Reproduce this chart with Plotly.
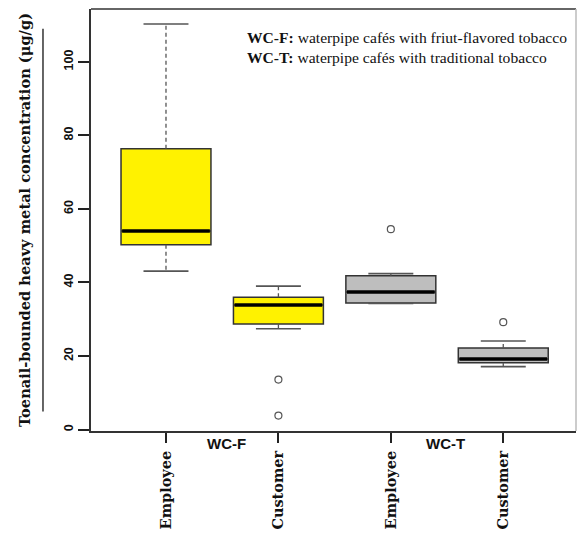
import plotly.graph_objects as go

# ---- data ----
categories = ["Employee", "Customer", "Employee", "Customer"]
groups = ["WC-F", "WC-T"]
positions = [1, 2, 3, 4]
lower_whisker = [43.1, 27.4, 34.3, 17.1]
q1_vals = [50.3, 28.7, 34.4, 18.2]
median_vals = [54.0, 33.9, 37.4, 19.2]
q3_vals = [76.4, 36.0, 41.8, 22.2]
upper_whisker = [110.3, 39.0, 42.4, 24.1]
outliers = [[], [13.6, 3.8], [54.5], [29.2]]
fill_colors = ["#fff200", "#fff200", "#bebebe", "#bebebe"]
y_ticks = [0, 20, 40, 60, 80, 100]
legend_lines = [
    ("WC-F:", " waterpipe cafés with friut-flavored tobacco"),
    ("WC-T:", " waterpipe cafés with traditional tobacco"),
]
y_title = "Toenail-bounded heavy metal concentration (μg/g)"

BOX_W = 0.8
CAP_HALF = 0.2

fig = go.Figure()

# dashed whiskers
wx, wy = [], []
for p, lo, a, b, hi in zip(positions, lower_whisker, q1_vals, q3_vals, upper_whisker):
    wx += [p, p, None, p, p, None]
    wy += [b, hi, None, a, lo, None]
fig.add_trace(go.Scatter(x=wx, y=wy, mode="lines",
                         line=dict(color="#555555", width=1.3, dash="4px,3px"),
                         hoverinfo="skip", showlegend=False))

# whisker caps
cx, cy = [], []
for p, lo, hi in zip(positions, lower_whisker, upper_whisker):
    cx += [p - CAP_HALF, p + CAP_HALF, None, p - CAP_HALF, p + CAP_HALF, None]
    cy += [hi, hi, None, lo, lo, None]
fig.add_trace(go.Scatter(x=cx, y=cy, mode="lines",
                         line=dict(color="#555555", width=1.6),
                         hoverinfo="skip", showlegend=False))

# boxes
for p, a, m, b, col in zip(positions, q1_vals, median_vals, q3_vals, fill_colors):
    fig.add_trace(go.Box(x=[p], q1=[a], median=[m], q3=[b],
                         lowerfence=[a], upperfence=[b],
                         width=BOX_W, whiskerwidth=0,
                         fillcolor=col, line=dict(color="#333333", width=1.5),
                         boxpoints=False, showlegend=False, hoverinfo="skip"))

# thick medians
mx, my = [], []
for p, m in zip(positions, median_vals):
    mx += [p - BOX_W / 2 + 0.01, p + BOX_W / 2 - 0.01, None]
    my += [m, m, None]
fig.add_trace(go.Scatter(x=mx, y=my, mode="lines",
                         line=dict(color="#000000", width=3.5),
                         hoverinfo="skip", showlegend=False))

# outliers
ox, oy = [], []
for p, outs in zip(positions, outliers):
    for v in outs:
        ox.append(p)
        oy.append(v)
fig.add_trace(go.Scatter(x=ox, y=oy, mode="markers",
                         marker=dict(symbol="circle-open", size=7,
                                     color="#555555", line=dict(width=1.2)),
                         hoverinfo="skip", showlegend=False))

fig.update_layout(
    width=577, height=533,
    margin=dict(l=91, r=1, t=9, b=102, autoexpand=False),
    paper_bgcolor="white", plot_bgcolor="white",
    showlegend=False,
    xaxis=dict(range=[0.333, 4.647], tickmode="array", tickvals=positions,
               ticktext=categories, tickangle=-90, ticks="outside",
               ticklen=10, tickwidth=1.5, tickcolor="#222222",
               ticklabelstandoff=2, automargin=False,
               tickfont=dict(family="DejaVu Serif", size=14.5, color="#111111",
                             weight="bold"),
               showgrid=False, zeroline=False, showline=True,
               linecolor="#333333", linewidth=2),
    yaxis=dict(range=[-0.4, 114.4], tickmode="array", tickvals=y_ticks,
               tickangle=-90, ticks="outside", ticklen=11, tickwidth=1.5,
               tickcolor="#222222", automargin=False,
               tickfont=dict(family="Liberation Sans", size=12.5, color="#111111",
                             weight="bold"),
               showgrid=False, zeroline=False, showline=True,
               linecolor="#333333", linewidth=2),
)

# frame top and right
fig.add_shape(type="line", xref="paper", yref="paper", x0=0, x1=1, y0=1, y1=1,
              line=dict(color="#333333", width=1.5))
fig.add_shape(type="line", xref="paper", yref="paper", x0=1, x1=1, y0=0, y1=1,
              line=dict(color="#bbbbbb", width=1.5))
# vertical rule beside the y title
fig.add_shape(type="line", xref="paper", yref="paper", x0=-0.099, x1=-0.099,
              y0=0.046, y1=0.953, line=dict(color="#333333", width=1.5))

# y title
fig.add_annotation(text=y_title, xref="paper", yref="paper", x=-0.138, y=0.5,
                   xanchor="center", yanchor="middle", textangle=-90,
                   showarrow=False,
                   font=dict(family="DejaVu Serif", size=14.6, color="#111111",
                             weight="bold"))

# group labels
for gx, g in zip([1.54, 3.49], groups):
    fig.add_annotation(text=g, x=gx, xref="x", yref="paper", y=-0.03,
                       xanchor="center", yanchor="middle", showarrow=False,
                       font=dict(family="Liberation Sans", size=15, color="#111111",
                                 weight="bold"))

# legend text
for i, (bold, rest) in enumerate(legend_lines):
    fig.add_annotation(text=f"<b>{bold}</b>{rest}", x=1.70, xref="x",
                       yref="paper", y=(430.5 - (37 + 20 * i)) / 421.5,
                       xanchor="left", yanchor="middle", showarrow=False,
                       font=dict(family="Liberation Serif", size=15.6, color="#111111"))

fig.write_html("out.html", config={"displayModeBar": False},
               post_script="document.body.style.margin='0';")
